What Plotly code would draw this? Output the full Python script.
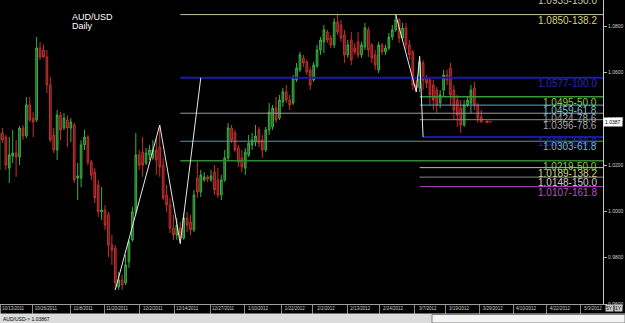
import plotly.graph_objects as go

# ---------------- data (AUD/USD daily) ----------------
bar_index = list(range(142))

open_ = [1.0179,1.0339,1.0321,1.0187,1.0239,1.0252,1.0235,1.0360,1.0326,1.0460,
         1.0403,1.0395,1.0706,1.0697,1.0667,1.0546,1.0330,1.0265,1.0416,1.0360,
         1.0395,1.0360,1.0373,1.0144,1.0144,1.0287,1.0321,1.0213,1.0170,1.0114,
         0.9998,1.0006,0.9985,0.9855,0.9842,0.9674,0.9704,0.9691,0.9782,0.9877,
         0.9998,1.0244,1.0256,1.0209,1.0244,1.0231,1.0265,1.0278,1.0200,1.0071,
         1.0028,0.9928,0.9898,0.9928,0.9885,0.9972,0.9954,0.9920,1.0144,1.0084,
         1.0136,1.0149,1.0136,1.0170,1.0136,1.0071,1.0136,1.0231,1.0360,1.0339,
         1.0274,1.0231,1.0187,1.0244,1.0287,1.0300,1.0352,1.0308,1.0265,1.0352,
         1.0365,1.0446,1.0403,1.0472,1.0516,1.0481,1.0468,1.0568,1.0611,1.0663,
         1.0645,1.0611,1.0568,1.0628,1.0697,1.0732,1.0775,1.0749,1.0719,1.0818,
         1.0805,1.0762,1.0676,1.0740,1.0706,1.0732,1.0676,1.0710,1.0784,1.0719,
         1.0676,1.0611,1.0719,1.0689,1.0706,1.0753,1.0784,1.0827,1.0749,1.0792,
         1.0719,1.0689,1.0546,1.0533,1.0641,1.0576,1.0568,1.0546,1.0524,1.0468,
         1.0524,1.0589,1.0619,1.0524,1.0481,1.0446,1.0373,1.0460,1.0468,1.0533,
         1.0460,1.0408]
high = [1.0352,1.0360,1.0330,1.0321,1.0352,1.0308,1.0369,1.0373,1.0494,1.0494,
        1.0429,1.0753,1.0732,1.0719,1.0697,1.0581,1.0360,1.0438,1.0429,1.0425,
        1.0416,1.0403,1.0382,1.0209,1.0308,1.0352,1.0330,1.0222,1.0187,1.0136,
        1.0105,1.0028,0.9998,0.9898,0.9855,0.9739,0.9726,0.9812,0.9877,1.0019,
        1.0339,1.0265,1.0321,1.0274,1.0287,1.0308,1.0317,1.0373,1.0231,1.0114,
        1.0058,0.9985,0.9972,0.9954,0.9993,0.9998,0.9985,1.0093,1.0222,1.0179,
        1.0170,1.0157,1.0179,1.0200,1.0187,1.0157,1.0265,1.0382,1.0373,1.0352,
        1.0287,1.0265,1.0274,1.0330,1.0339,1.0373,1.0365,1.0330,1.0365,1.0468,
        1.0460,1.0494,1.0503,1.0533,1.0546,1.0503,1.0589,1.0641,1.0689,1.0676,
        1.0654,1.0624,1.0645,1.0719,1.0753,1.0805,1.0784,1.0762,1.0835,1.0848,
        1.0827,1.0784,1.0740,1.0775,1.0727,1.0775,1.0732,1.0814,1.0797,1.0727,
        1.0697,1.0732,1.0727,1.0719,1.0771,1.0805,1.0850,1.0835,1.0814,1.0814,
        1.0740,1.0697,1.0568,1.0667,1.0654,1.0589,1.0576,1.0568,1.0537,1.0524,
        1.0611,1.0611,1.0641,1.0546,1.0503,1.0481,1.0481,1.0494,1.0546,1.0559,
        1.0468,1.0438]
low = [1.0157,1.0295,1.0179,1.0123,1.0209,1.0149,1.0200,1.0308,1.0317,1.0386,
       1.0321,1.0386,1.0654,1.0663,1.0511,1.0300,1.0252,1.0222,1.0308,1.0352,
       1.0278,1.0300,1.0123,1.0049,1.0105,1.0265,1.0200,1.0136,1.0036,0.9976,
       0.9963,0.9920,0.9803,0.9769,0.9661,0.9661,0.9661,0.9682,0.9756,0.9868,
       0.9985,1.0179,1.0149,1.0200,1.0222,1.0222,1.0157,1.0149,1.0049,0.9998,
       0.9907,0.9877,0.9877,0.9861,0.9877,0.9911,0.9898,0.9911,1.0058,1.0062,
       1.0127,1.0127,1.0127,1.0071,1.0058,1.0049,1.0127,1.0222,1.0295,1.0257,
       1.0192,1.0170,1.0157,1.0235,1.0265,1.0282,1.0278,1.0231,1.0256,1.0330,
       1.0352,1.0382,1.0395,1.0451,1.0468,1.0438,1.0460,1.0559,1.0602,1.0624,
       1.0589,1.0524,1.0559,1.0619,1.0676,1.0684,1.0727,1.0706,1.0706,1.0762,
       1.0732,1.0641,1.0663,1.0632,1.0676,1.0663,1.0663,1.0697,1.0667,1.0641,
       1.0611,1.0598,1.0676,1.0676,1.0697,1.0740,1.0775,1.0727,1.0740,1.0697,
       1.0654,1.0524,1.0516,1.0516,1.0524,1.0533,1.0460,1.0438,1.0425,1.0446,
       1.0494,1.0546,1.0460,1.0395,1.0365,1.0339,1.0365,1.0451,1.0425,1.0438,
       1.0382,1.0382]
close = [1.0339,1.0308,1.0200,1.0244,1.0252,1.0235,1.0360,1.0326,1.0460,1.0395,
         1.0386,1.0706,1.0667,1.0667,1.0546,1.0308,1.0265,1.0416,1.0352,1.0403,
         1.0360,1.0386,1.0136,1.0153,1.0287,1.0321,1.0213,1.0157,1.0058,0.9998,
         1.0006,0.9941,0.9855,0.9833,0.9691,0.9704,0.9682,0.9769,0.9868,0.9998,
         1.0244,1.0200,1.0200,1.0252,1.0265,1.0265,1.0222,1.0192,1.0058,1.0028,
         0.9928,0.9898,0.9941,0.9885,0.9972,0.9941,0.9920,1.0071,1.0084,1.0157,
         1.0149,1.0140,1.0153,1.0093,1.0071,1.0136,1.0231,1.0360,1.0308,1.0265,
         1.0213,1.0192,1.0256,1.0295,1.0308,1.0326,1.0295,1.0265,1.0352,1.0429,
         1.0446,1.0395,1.0481,1.0516,1.0481,1.0460,1.0576,1.0619,1.0676,1.0641,
         1.0602,1.0546,1.0632,1.0697,1.0740,1.0784,1.0740,1.0719,1.0818,1.0775,
         1.0749,1.0676,1.0719,1.0654,1.0689,1.0676,1.0719,1.0792,1.0697,1.0663,
         1.0632,1.0719,1.0689,1.0706,1.0753,1.0784,1.0827,1.0749,1.0792,1.0719,
         1.0676,1.0546,1.0533,1.0645,1.0568,1.0555,1.0503,1.0481,1.0460,1.0503,
         1.0589,1.0568,1.0503,1.0438,1.0416,1.0373,1.0460,1.0481,1.0524,1.0460,
         1.0403,1.0387]

last_price = 1.0387
last_price_text = "1.0387"
status_text = "AUD/USD-> 1.03867"

date_labels = ["10/13/2011","10/26/2011","11/8/2011","11/20/2011","12/2/2011","12/14/2011",
               "12/27/2011","1/10/2012","1/22/2012","2/2/2012","2/13/2012","2/24/2012",
               "3/7/2012","3/19/2012","3/29/2012","4/10/2012","4/22/2012","5/3/2012"]
date_label_index = [0.3, 9.9, 20.8, 30.7, 41.2, 51.2, 61.7, 71.9, 82.7, 91.8, 101.8,
                    111.4, 121.6, 130.7, 140.6, 150.3, 160.2, 169.9]

price_ticks = [0.96, 0.98, 1.00, 1.02, 1.04, 1.06, 1.08]

# zig-zag drawings (bar index, price)
zig2_x = [34, 47, 53, 59]
zig2_y = [0.9661, 1.0373, 0.9861, 1.0577]
zig1_x = [116, 122, 123, 124]
zig1_y = [1.0850, 1.0516, 1.0670, 1.0321]

# fibonacci set drawn from the Dec low (starts at bar 53)
fib2_level = ["50.0", "61.8", "78.6", "100.0", "138.2", "150.0"]
fib2_price = [1.0219, 1.0303, 1.0424, 1.0577, 1.0850, 1.0935]
fib2_line = ["#2f8a2f", "#4f9ca4", "#9a9a9a", "#1c1ca8", "#c4c49c", "#c4c49c"]
fib2_text = ["#86cc44", "#70b8cc", "#a8a8a8", "#2424c8", "#d6d27c", "#cfc9a0"]
fib2_start = 53

# fibonacci set drawn from the March swing (starts at bar 123)
fib1_level = ["50.0", "61.8", "78.6", "100.0", "138.2", "150.0", "161.8"]
fib1_price = [1.0495, 1.0459, 1.0396, 1.0321, 1.0189, 1.0148, 1.0107]
fib1_line = ["#3a9a3a", "#5aa8b8", "#8c8c8c", "#1a1aa0", "#c0c090", "#8c8c8c", "#b040c0"]
fib1_text = ["#8ccf44", "#74c2da", "#a4a4a4", "#2424c8", "#d8d490", "#cccccc", "#b850d0"]
fib1_start = [123, 123, 123, 124, 123, 123, 123]

# ---------------- figure ----------------
Y0, Y1 = 0.9600, 1.0913
X0, X1 = 0.29, 176.61
X_END = 200

fig = go.Figure()

def fib_lines(levels, prices, colors, starts):
    for k, (lv, p, c) in enumerate(zip(levels, prices, colors)):
        s = starts[k] if isinstance(starts, list) else starts
        w = 2 if lv == "100.0" else (1.5 if lv == "50.0" else 1)
        fig.add_trace(go.Scatter(x=[s, X_END], y=[p, p], mode="lines",
                                 line=dict(color=c, width=w), hoverinfo="skip"))

fib_lines(fib1_level, fib1_price, fib1_line, fib1_start)
fib_lines(fib2_level, fib2_price, fib2_line, fib2_start)

fig.add_trace(go.Candlestick(
    x=bar_index, open=open_, high=high, low=low, close=close,
    increasing=dict(line=dict(color="#3cb043", width=1), fillcolor="#1f5a1f"),
    decreasing=dict(line=dict(color="#c83030", width=1), fillcolor="#5a1414"),
    whiskerwidth=0, hoverinfo="skip"))

for zx, zy in ((zig2_x, zig2_y), (zig1_x, zig1_y)):
    fig.add_trace(go.Scatter(x=zx, y=zy, mode="lines",
                             line=dict(color="#e8e8e8", width=1), hoverinfo="skip"))

annotations = []
def fib_labels(levels, prices, colors, order):
    for k in order:
        p = prices[k]
        y = min(p, Y1)
        shift = 2 + (p - y) * 2315
        annotations.append(dict(
            xref="paper", x=599 / 603, xanchor="right",
            yref="y", y=y, yanchor="top", yshift=shift,
            text=f"{p:.4f}-{levels[k]}", showarrow=False,
            font=dict(family="Liberation Sans", size=10, color=colors[k])))

fib_labels(fib1_level, fib1_price, fib1_text, range(len(fib1_level)))
fib_labels(fib2_level, fib2_price, fib2_text, range(len(fib2_level)))

annotations += [
    dict(xref="paper", yref="paper", x=70 / 603, y=1 - 10 / 304, xanchor="left", yanchor="top",
         text="AUD/USD", showarrow=False,
         font=dict(family="Liberation Sans", size=9, color="#ffffff")),
    dict(xref="paper", yref="paper", x=70 / 603, y=1 - 19 / 304, xanchor="left", yanchor="top",
         text="Daily", showarrow=False,
         font=dict(family="Liberation Sans", size=9, color="#ffffff")),
    dict(xref="paper", x=1, xanchor="left", yref="y", y=last_price, yanchor="middle",
         text=last_price_text, showarrow=False, bgcolor="#ffffff", borderpad=1,
         font=dict(family="Liberation Sans", size=5, color="#000000")),
    dict(x=bar_index[-1] + 1, y=last_price, xref="x", yref="y", ax=9, ay=0,
         text="", showarrow=True, arrowhead=2, arrowsize=0.7, arrowwidth=1,
         arrowcolor="#e02020"),
    dict(xref="paper", yref="paper", x=1 / 603, y=-14.5 / 304, xanchor="left", yanchor="middle",
         text=status_text, showarrow=False,
         font=dict(family="Liberation Sans", size=5, color="#000000")),
    dict(xref="paper", yref="paper", x=605 / 603, y=-4 / 304, xanchor="left", yanchor="middle",
         text="5Y", showarrow=False, bgcolor="#c8c8c8", borderpad=0,
         font=dict(family="Liberation Sans", size=5, color="#000000")),
    dict(xref="paper", yref="paper", x=614 / 603, y=-4 / 304, xanchor="left", yanchor="middle",
         text="1Y", showarrow=False, bgcolor="#c8c8c8", borderpad=0,
         font=dict(family="Liberation Sans", size=5, color="#000000")),
]

shapes = [
    dict(type="rect", xref="paper", yref="paper", x0=0, x1=625 / 603,
         y0=-19 / 304, y1=-9.5 / 304, fillcolor="#dcdcdc", line=dict(width=0), layer="above"),
    dict(type="rect", xref="paper", yref="paper", x0=432 / 603, x1=625 / 603,
         y0=-19 / 304, y1=-10.5 / 304, fillcolor="#f4f4f4",
         line=dict(width=1, color="#808080"), layer="above"),
]

fig.update_layout(
    width=625, height=323,
    margin=dict(l=0, r=22, t=0, b=19),
    paper_bgcolor="#000000", plot_bgcolor="#000000",
    showlegend=False, annotations=annotations, shapes=shapes,
    xaxis=dict(range=[X0, X1], tickmode="array", tickvals=date_label_index, ticktext=date_labels,
               ticks="", ticklabelshift=13, ticklabelstandoff=0,
               tickfont=dict(family="Liberation Sans", size=4.5, color="#d0d0d0"),
               minor=dict(tickmode="array", tickvals=date_label_index, ticks="outside",
                          ticklen=9, tickcolor="#8c8c8c", tickwidth=1, showgrid=False),
               showgrid=False, zeroline=False, showline=True, linecolor="#a0a0a0",
               rangeslider=dict(visible=False), fixedrange=True),
    yaxis=dict(range=[Y0, Y1], side="right", tickvals=price_ticks,
               ticktext=[f"{v:.4f}" for v in price_ticks],
               ticks="outside", ticklen=3, tickcolor="#b0b0b0",
               tickfont=dict(family="Liberation Sans", size=5, color="#d0d0d0"),
               showgrid=False, zeroline=False, showline=True, linecolor="#c8c8c8",
               fixedrange=True),
)

fig.write_html("out.html")
